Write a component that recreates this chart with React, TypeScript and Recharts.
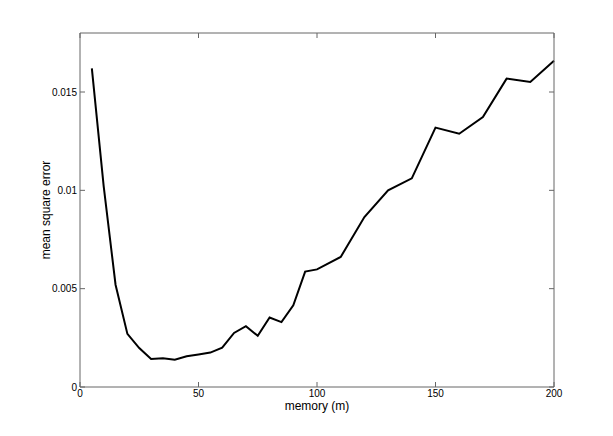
import { LineChart, Line, XAxis, YAxis, Label } from 'recharts';

const memory = [5, 10, 15, 20, 25, 30, 35, 40, 45, 50, 55, 60, 65, 70, 75, 80, 85, 90, 95, 100, 110, 120, 130, 140, 150, 160, 170, 180, 190, 200];
const mse = [0.0162, 0.0102, 0.0052, 0.0027, 0.00198, 0.00142, 0.00146, 0.00139, 0.00156, 0.00165, 0.00175, 0.002, 0.00275, 0.00309, 0.0026, 0.00353, 0.0033, 0.00415, 0.00587, 0.00598, 0.00661, 0.00864, 0.01, 0.01061, 0.01319, 0.01288, 0.01373, 0.01568, 0.01551, 0.01659];

const xTicks = [0, 50, 100, 150, 200];
const yTicks = [0, 0.005, 0.01, 0.015];

const AXIS = '#666';
const FONT = '"Liberation Sans", Arial, Helvetica, sans-serif';

const noLabel = () => <g />;

export default function App() {
  const data = memory.map((m, i) => ({ memory: m, mse: mse[i] }));
  const tickStyle = { fontSize: 10, fill: '#000', fontFamily: FONT };

  return (
    <div style={{ position: 'absolute', left: 0, top: 0, width: 613, height: 436, background: '#fff' }}>
      <LineChart width={613} height={436} data={data} margin={{ top: 23, right: 49, bottom: 0, left: 0 }}>
        {/* MATLAB style box: ticks point into the plot on all four sides */}
        <XAxis
          xAxisId="bottom"
          dataKey="memory"
          type="number"
          domain={[0, 200]}
          ticks={xTicks}
          height={49}
          stroke={AXIS}
          tickSize={-5}
          tickMargin={8}
          tick={tickStyle}
        >
          <Label value="memory (m)" position="insideBottom" offset={26} style={{ fontSize: 12, fill: '#000', fontFamily: FONT }} />
        </XAxis>
        <XAxis
          xAxisId="top"
          orientation="top"
          dataKey="memory"
          type="number"
          domain={[0, 200]}
          ticks={xTicks}
          height={10}
          stroke={AXIS}
          tickSize={-5}
          tick={noLabel}
        />
        <YAxis
          yAxisId="left"
          type="number"
          domain={[0, 0.018]}
          ticks={yTicks}
          width={80}
          stroke={AXIS}
          tickSize={-5}
          tickMargin={8}
          tick={tickStyle}
        >
          <Label
            value="mean square error"
            position="insideLeft"
            offset={46}
            angle={-90}
            style={{ fontSize: 12, fill: '#000', fontFamily: FONT, textAnchor: 'middle' }}
          />
        </YAxis>
        <YAxis
          yAxisId="right"
          orientation="right"
          type="number"
          domain={[0, 0.018]}
          ticks={yTicks}
          width={10}
          stroke={AXIS}
          tickSize={-5}
          tick={noLabel}
        />
        {/* invisible copy so the top/right axes have a series */}
        <Line
          xAxisId="top"
          yAxisId="right"
          type="linear"
          dataKey="mse"
          stroke="none"
          dot={false}
          activeDot={false}
          isAnimationActive={false}
        />
        <Line
          xAxisId="bottom"
          yAxisId="left"
          type="linear"
          dataKey="mse"
          stroke="#000"
          strokeWidth={2}
          dot={false}
          isAnimationActive={false}
        />
      </LineChart>
    </div>
  );
}
